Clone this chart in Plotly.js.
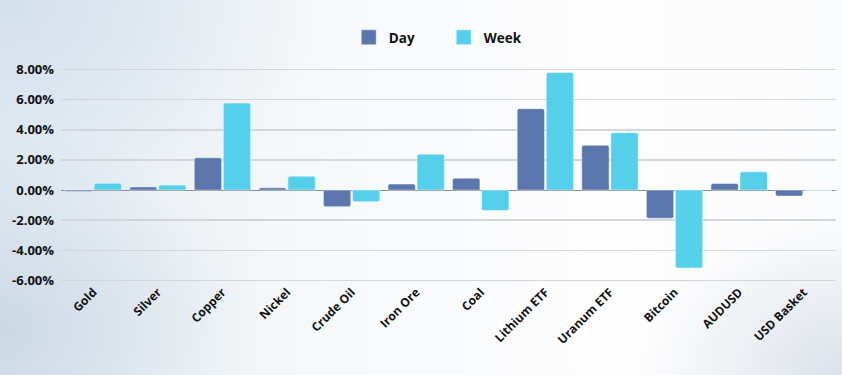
<!DOCTYPE html>
<html>
<head>
<meta charset="utf-8">
<script src="https://cdn.plot.ly/plotly-3.0.1.min.js"></script>
<style>
  html, body { margin: 0; padding: 0; }
  body {
    width: 842px; height: 375px; overflow: hidden;
    background:
      radial-gradient(ellipse 260px 200px at 0px 330px, rgba(196,211,226,0.8), rgba(196,211,226,0) 100%),
      radial-gradient(ellipse 320px 230px at 0px 0px, rgba(210,223,236,0.95), rgba(210,223,236,0) 100%),
      radial-gradient(ellipse 200px 160px at 842px 375px, rgba(205,215,226,0.7), rgba(205,215,226,0) 100%),
      linear-gradient(90deg, #e6edf4 0%, #f5f8fa 35%, #fdfdfe 70%, #fbfcfd 100%);
  }
  #chart { width: 842px; height: 375px; }
</style>
</head>
<body>
<div id="chart"></div>
<script>
const categories = ["Gold", "Silver", "Copper", "Nickel", "Crude Oil", "Iron Ore", "Coal",
  "Lithium ETF", "Uranum ETF", "Bitcoin", "AUDUSD", "USD Basket"];
const dayValues  = [-0.10, 0.21, 2.14, 0.15, -1.10, 0.40, 0.79, 5.40, 2.97, -1.87, 0.44, -0.40];
const weekValues = [0.45, 0.33, 5.77, 0.92, -0.77, 2.38, -1.35, 7.80, 3.81, -5.17, 1.21, -0.03];
const seriesNames = ["Day", "Week"];
const seriesColors = ["#5b76ad", "#55d0ea"];
const tickVals = [-6, -4, -2, 0, 2, 4, 6, 8];
const tickText = ["-6.00%", "-4.00%", "-2.00%", "0.00%", "2.00%", "4.00%", "6.00%", "8.00%"];

const fam = "Open Sans, Lato, sans-serif";
const seriesValues = [dayValues, weekValues];

const traces = [];
seriesNames.forEach((n, i) => {
  traces.push({ type: "bar", name: n, x: categories, y: seriesValues[i], showlegend: false,
    marker: { color: seriesColors[i], line: { color: "rgba(255,255,255,0.45)", width: 1 }, cornerradius: 2 },
    hoverinfo: "skip" });
});
// legend entries with larger square keys
seriesNames.forEach((n, i) => {
  traces.push({ type: "scatter", mode: "markers", name: n, x: [null], y: [null],
    marker: { symbol: "square", size: 15, color: seriesColors[i], line: { color: "rgba(255,255,255,0.5)", width: 1 } },
    hoverinfo: "skip" });
});

const layout = {
  width: 842, height: 375,
  paper_bgcolor: "rgba(0,0,0,0)", plot_bgcolor: "rgba(0,0,0,0)",
  margin: { l: 61, r: 6, t: 67.5, b: 92.5 },
  barmode: "group", bargap: 0.1, bargroupgap: 0.06,
  font: { family: fam, color: "#111", size: 12, weight: 700 },
  showlegend: true,
  legend: {
    orientation: "h", xref: "container", yref: "container",
    x: 0.527, xanchor: "center", y: 0.9, yanchor: "middle",
    font: { family: fam, size: 13.5, color: "#111", weight: 700 },
    bgcolor: "rgba(0,0,0,0)", entrywidth: 50, entrywidthmode: "pixels", itemwidth: 30
  },
  xaxis: {
    tickangle: -45, showgrid: false, zeroline: false, showline: false, ticks: "",
    tickfont: { family: fam, size: 12, color: "#111", weight: 700 },
    fixedrange: true
  },
  yaxis: {
    range: [-6.1, 8.1], tickvals: tickVals, ticktext: tickText,
    showgrid: true, gridcolor: "#d2d5d9", gridwidth: 1.5,
    zeroline: true, zerolinecolor: "#8a8d91", zerolinewidth: 1,
    showline: false, ticks: "", ticklabelstandoff: 6,
    tickfont: { family: fam, size: 13, color: "#111", weight: 700 },
    fixedrange: true
  }
};

Plotly.newPlot("chart", traces, layout, { displayModeBar: false, staticPlot: true });
</script>
</body>
</html>
